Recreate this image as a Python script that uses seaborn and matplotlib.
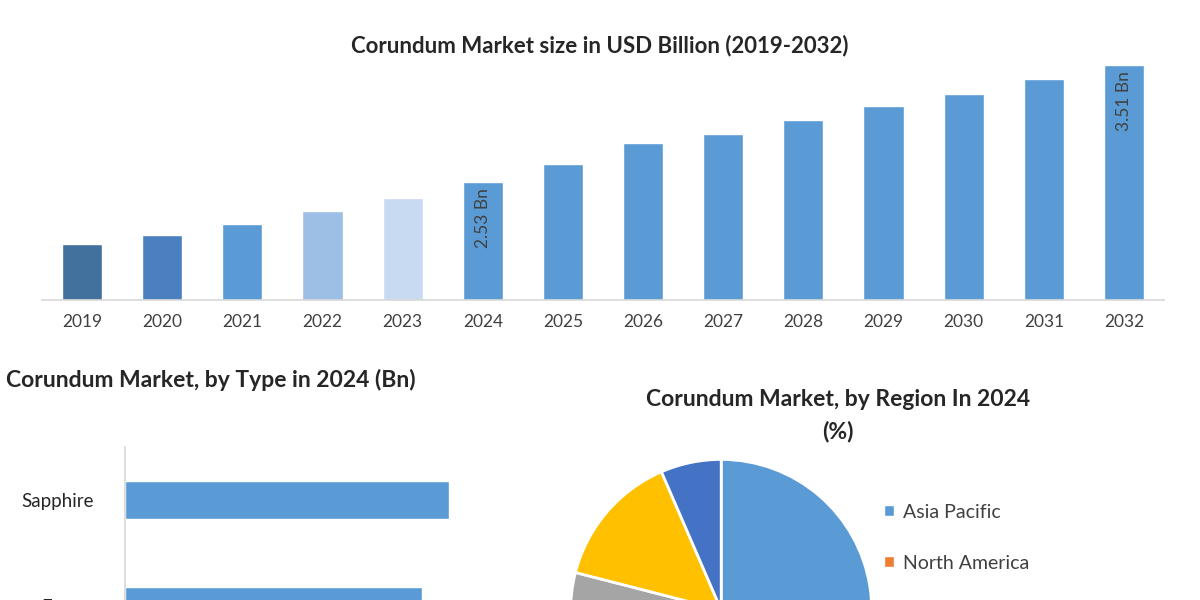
import matplotlib
matplotlib.use("Agg")
import matplotlib.pyplot as plt
import seaborn as sns
import pandas as pd
from matplotlib.patches import Patch

sns.set_theme(style="white")
plt.rcParams['font.family'] = ['Lato', 'DejaVu Sans']

years = [str(y) for y in range(2019, 2033)]
market = [2.02, 2.09, 2.18, 2.29, 2.40, 2.53, 2.68, 2.86, 2.93, 3.05, 3.17, 3.27, 3.39, 3.51]
bar_colors = ["#41719c", "#4a80bd", "#5b9bd5", "#9dbfe6", "#c7daf1"] + ["#5b9bd5"] * 9

types = ["Sapphire", "Emery"]
type_values = [1.30, 1.19]

regions = ["Asia Pacific", "North America", "Europe", "Middle East & Africa", "South America"]
region_share = [45.0, 25.0, 9.0, 14.5, 6.5]
region_colors = ["#5b9bd5", "#ed7d31", "#a5a5a5", "#ffc000", "#4472c4"]

fig = plt.figure(figsize=(12, 6), dpi=100)

# Top bar chart
ax1 = fig.add_axes([0.035, 0.5, 0.935, 0.4])
df = pd.DataFrame({"year": years, "value": market})
sns.barplot(data=df, x="year", y="value", hue="year", palette=bar_colors,
            legend=False, ax=ax1, width=0.5, saturation=1)
ax1.set_ylim(1.55, 3.55)
ax1.set_xlabel(""); ax1.set_ylabel("")
ax1.set_yticks([])
for s in ["top", "right", "left"]:
    ax1.spines[s].set_visible(False)
ax1.spines["bottom"].set_color("#d9d9d9")
ax1.tick_params(axis="x", labelsize=12.5, colors="#404040", length=0, pad=10)
for i, lbl in [(5, "2.53 Bn"), (13, "3.51 Bn")]:
    ax1.text(i, market[i] - 0.05, lbl, rotation=90, ha="center", va="top",
             fontsize=12.5, color="#404040")
fig.text(0.5, 0.912, "Corundum Market size in USD Billion (2019-2032)",
         ha="center", fontsize=16, fontweight="bold", color="#262626")

# Bottom left horizontal bars
ax2 = fig.add_axes([0.104, -0.275, 0.36, 0.53])
dft = pd.DataFrame({"type": types, "value": type_values})
sns.barplot(data=dft, y="type", x="value", color="#5b9bd5", saturation=1,
            ax=ax2, width=0.36, orient="h")
ax2.set_ylim(2.5, -0.5)
ax2.set_xlim(0, 1.73)
ax2.set_xlabel(""); ax2.set_ylabel("")
ax2.set_xticks([])
for s in ["top", "right", "bottom"]:
    ax2.spines[s].set_visible(False)
ax2.spines["left"].set_color("#d9d9d9")
ax2.tick_params(axis="y", labelsize=13.5, colors="#262626", length=0, pad=22)
fig.text(0.005, 0.355, "Corundum Market, by Type in 2024 (Bn)",
         ha="left", fontsize=16.5, fontweight="bold", color="#262626")

# Pie
ax3 = fig.add_axes([0.444, -0.33, 0.314, 0.627])
ax3.pie(region_share, colors=region_colors, startangle=90, counterclock=False,
        wedgeprops=dict(edgecolor="white", linewidth=2))
ax3.set_aspect("equal")
fig.text(0.698, 0.308, "Corundum Market, by Region In 2024\n(%)", ha="center",
         va="center", fontsize=16.5, fontweight="bold", color="#262626", linespacing=1.6)
handles = [Patch(facecolor=c, label=r) for c, r in zip(region_colors, regions)]
fig.legend(handles=handles, loc="upper left", bbox_to_anchor=(0.722, 0.19),
           frameon=False, fontsize=14, handlelength=0.5, handleheight=0.5,
           labelspacing=1.75, handletextpad=0.5, labelcolor="#404040")

fig.savefig("out.png", dpi=100)
